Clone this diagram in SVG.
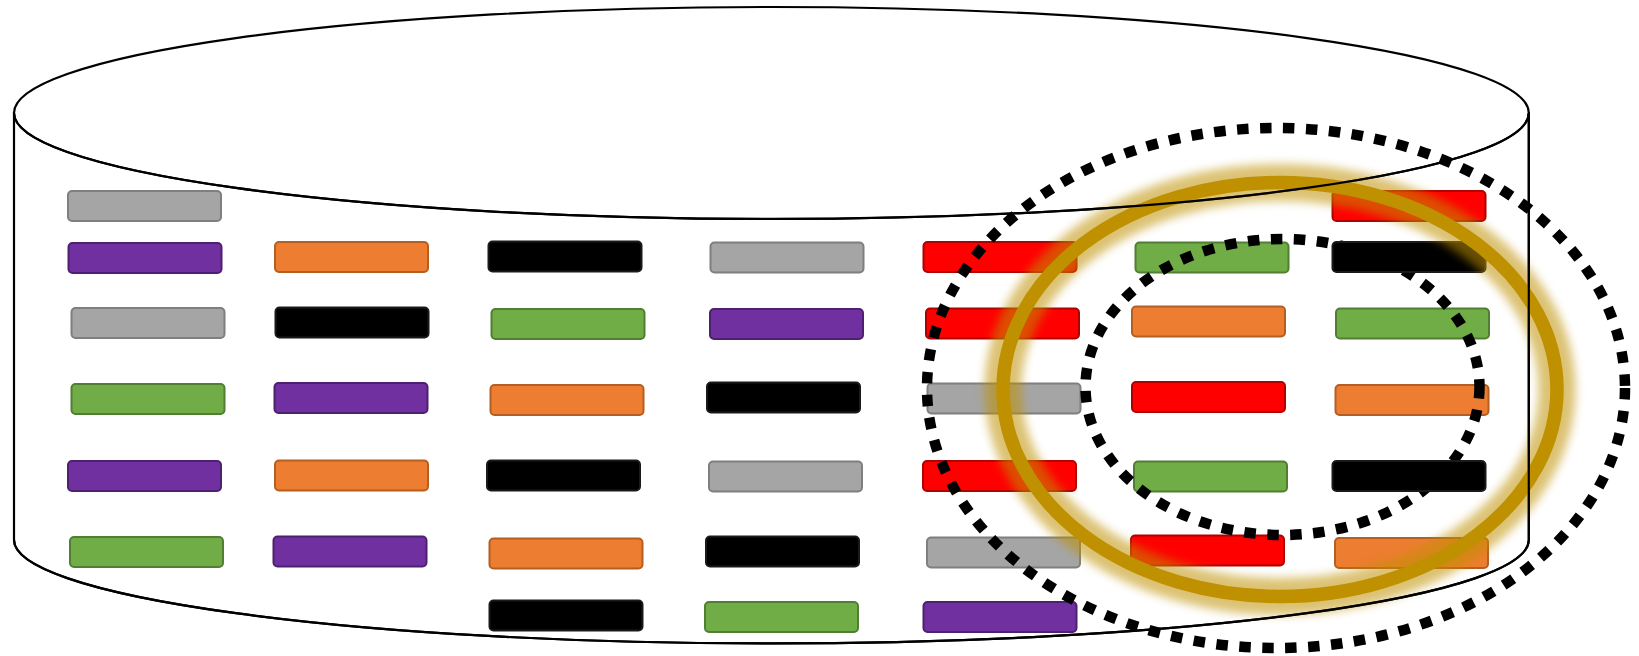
<svg xmlns="http://www.w3.org/2000/svg" width="1639" height="656" viewBox="0 0 1639 656">
  <style>
    .cyl { fill: #FFFFFF; stroke: #000000; stroke-width: 2.2; }
    .cyl-line { fill: none; stroke: #000000; stroke-width: 2.2; }
    .bar { stroke-width: 2; }
    .gray { fill: #A5A5A5; stroke: #7F7F7F; }
    .purple { fill: #7030A0; stroke: #4E2170; }
    .orange { fill: #ED7D31; stroke: #B55E22; }
    .green { fill: #70AD47; stroke: #507E32; }
    .black { fill: #000000; stroke: #1A1A1A; }
    .red { fill: #FF0000; stroke: #B00000; }
    .dotted { fill: none; stroke: #000000; stroke-width: 10.5; stroke-dasharray: 11.5 11.5; }
    .ring { fill: none; stroke: #BF9000; stroke-width: 13.5; }
    .ring-glow { fill: none; stroke: #BF9000; stroke-width: 37; opacity: 0.55; }
  </style>
  <defs>
    <filter id="glow" x="-20%" y="-20%" width="140%" height="140%">
      <feGaussianBlur stdDeviation="5"/>
    </filter>
    <rect id="bar" width="153" height="30" rx="4" ry="4"/>
  </defs>

  <!-- storage cylinder -->
  <g id="cylinder">
    <path class="cyl" d="M14,113 L14,540 A757.4,103.5 0 0 0 1528.8,540 L1528.8,113 Z"/>
    <ellipse class="cyl" cx="771.4" cy="113" rx="757.4" ry="106"/>
  </g>

  <!-- stored records, column by column -->
  <g id="col1">
    <use href="#bar" class="bar gray" x="68" y="191"/>
    <use href="#bar" class="bar purple" x="68.5" y="243"/>
    <use href="#bar" class="bar gray" x="71.5" y="308"/>
    <use href="#bar" class="bar green" x="71.5" y="384"/>
    <use href="#bar" class="bar purple" x="68" y="461" height="32"/>
    <use href="#bar" class="bar green" x="70" y="537"/>
  </g>
  <g id="col2">
    <use href="#bar" class="bar orange" x="275" y="242"/>
    <use href="#bar" class="bar black" x="275.5" y="307.5"/>
    <use href="#bar" class="bar purple" x="274.5" y="383"/>
    <use href="#bar" class="bar orange" x="275" y="460.5"/>
    <use href="#bar" class="bar purple" x="273.5" y="536.5"/>
  </g>
  <g id="col3">
    <use href="#bar" class="bar black" x="488.5" y="241.5"/>
    <use href="#bar" class="bar green" x="491.5" y="309"/>
    <use href="#bar" class="bar orange" x="490.5" y="385"/>
    <use href="#bar" class="bar black" x="487" y="460.5"/>
    <use href="#bar" class="bar orange" x="489.5" y="538.5"/>
    <use href="#bar" class="bar black" x="489.5" y="600.5"/>
  </g>
  <g id="col4">
    <use href="#bar" class="bar gray" x="710.5" y="242.5"/>
    <use href="#bar" class="bar purple" x="710" y="309"/>
    <use href="#bar" class="bar black" x="707" y="382.5"/>
    <use href="#bar" class="bar gray" x="709" y="461.5"/>
    <use href="#bar" class="bar black" x="706" y="536.5"/>
    <use href="#bar" class="bar green" x="705" y="602"/>
  </g>
  <g id="col5">
    <use href="#bar" class="bar red" x="923.5" y="242"/>
    <use href="#bar" class="bar red" x="926" y="308.5"/>
    <use href="#bar" class="bar gray" x="927.5" y="383.5"/>
    <use href="#bar" class="bar red" x="923" y="461"/>
    <use href="#bar" class="bar gray" x="927" y="537.5"/>
    <use href="#bar" class="bar purple" x="923.5" y="602"/>
  </g>
  <g id="col6">
    <use href="#bar" class="bar green" x="1135.5" y="242.5"/>
    <use href="#bar" class="bar orange" x="1132" y="306.5"/>
    <use href="#bar" class="bar red" x="1132" y="382"/>
    <use href="#bar" class="bar green" x="1134" y="461.5"/>
    <use href="#bar" class="bar red" x="1131" y="535.5"/>
  </g>
  <g id="col7">
    <use href="#bar" class="bar red" x="1332.5" y="191"/>
    <use href="#bar" class="bar green" x="1336" y="308.5"/>
    <use href="#bar" class="bar orange" x="1335.5" y="385"/>
    <use href="#bar" class="bar orange" x="1335" y="538"/>
  </g>

  <!-- selection outlines -->
  <g id="connectors">
    <ellipse id="outer-scope" class="dotted" cx="1276" cy="388" rx="349" ry="260"/>
    <ellipse id="inner-scope" class="dotted" cx="1282.5" cy="387" rx="197" ry="148"/>
  </g>

  <!-- records drawn over the inner outline -->
  <g id="col7-front">
    <use href="#bar" class="bar black" x="1332.5" y="242"/>
    <use href="#bar" class="bar black" x="1332.5" y="461"/>
  </g>

  <!-- highlighted region -->
  <g id="highlight">
    <ellipse class="ring-glow" cx="1280" cy="389.5" rx="277" ry="207" filter="url(#glow)"/>
    <ellipse class="ring" cx="1280" cy="389.5" rx="277" ry="207"/>
  </g>

  <!-- cylinder rims kept visible over the highlight -->
  <g id="cylinder-rims">
    <path class="cyl-line" d="M14,113 A757.4,106 0 0 0 1528.8,113"/>
    <path class="cyl-line" d="M14,540 A757.4,103.5 0 0 0 1528.8,540"/>
    <line class="cyl-line" x1="1528.8" y1="113" x2="1528.8" y2="540"/>
  </g>
</svg>
